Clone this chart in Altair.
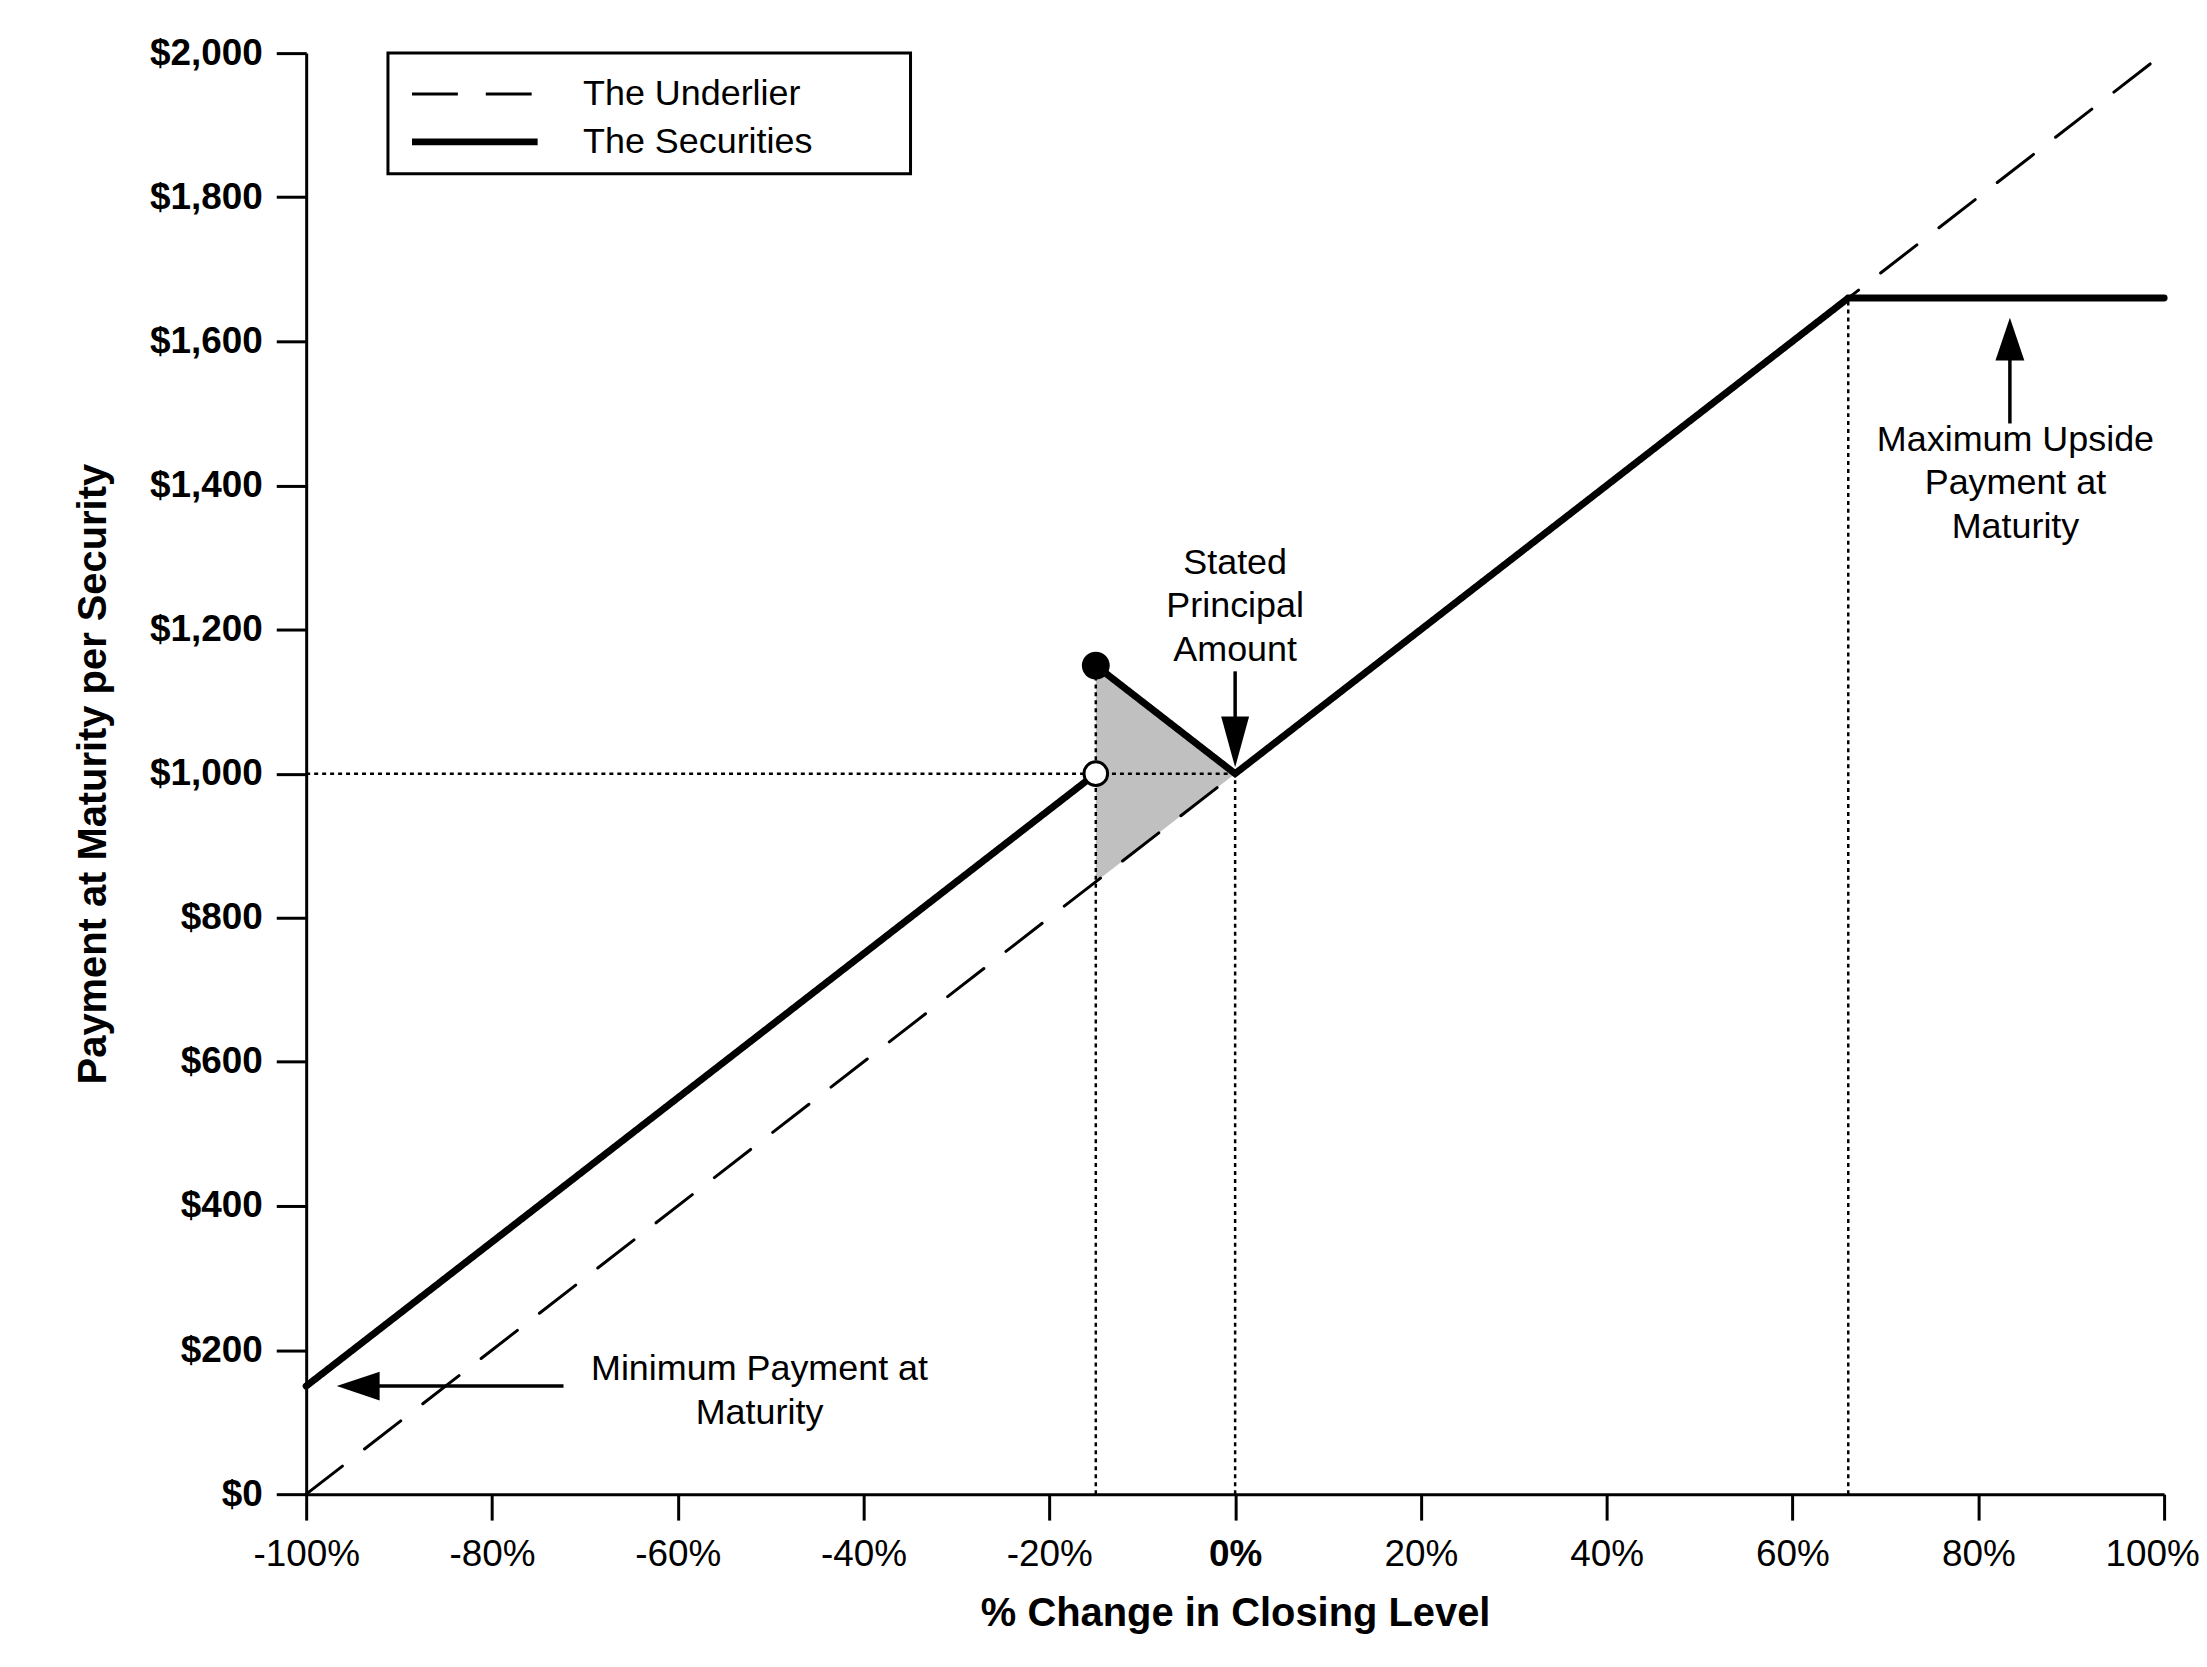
import altair as alt
import pandas as pd

FONT = "Liberation Sans"

# ---------------- data ----------------
x_ticks = [-100, -80, -60, -40, -20, 0, 20, 40, 60, 80, 100]
y_ticks = [0, 200, 400, 600, 800, 1000, 1200, 1400, 1600, 1800, 2000]

series_names = ["The Underlier", "The Securities"]

und_x = [-100, 100]
und_y = [0, 2000]

sec1_x = [-100, -15]
sec1_y = [150, 1000]
sec2_x = [-15, 0, 66, 100]
sec2_y = [1150, 1000, 1660, 1660]

shade_x = [-15, 0]
shade_lo = [850, 1000]
shade_hi = [1150, 1000]

dot_filled_x = [-15]
dot_filled_y = [1150]
dot_open_x = [-15]
dot_open_y = [1000]

guide_x = [-100, -15, 0, 66]
guide_x2 = [0, -15, 0, 66]
guide_y = [1000, 0, 0, 0]
guide_y2 = [1000, 1150, 1000, 1660]

shaft_x = [-92.5, 0, 83.4]
shaft_x2 = [-72.3, 0, 83.4]
shaft_y = [150, 1142, 1580]
shaft_y2 = [150, 1070, 1486]

head_min = ([-94.4], [150])
head_stated = ([0], [1044])
head_max = ([83.4], [1603])

note_text = ["Stated\nPrincipal\nAmount", "Maximum Upside\nPayment at\nMaturity", "Minimum Payment at\nMaturity"]
note_x = [0, 84.0, -51.2]
note_y = [1277, 1448, 158]

# ---------------- tables ----------------
lines_df = pd.DataFrame({
    "x": und_x + sec1_x + sec2_x,
    "y": und_y + sec1_y + sec2_y,
    "series": [series_names[0]] * len(und_x) + [series_names[1]] * (len(sec1_x) + len(sec2_x)),
    "seg": ["u"] * len(und_x) + ["s1"] * len(sec1_x) + ["s2"] * len(sec2_x),
})
shade_df = pd.DataFrame({"x": shade_x, "lo": shade_lo, "hi": shade_hi})
guide_df = pd.DataFrame({"x": guide_x, "x2": guide_x2, "y": guide_y, "y2": guide_y2})
shaft_df = pd.DataFrame({"x": shaft_x, "x2": shaft_x2, "y": shaft_y, "y2": shaft_y2})
notes_df = pd.DataFrame({"t": note_text, "x": note_x, "y": note_y})

# ---------------- axes / scales ----------------
xs = alt.Scale(domain=[-100, 100], nice=False, zero=False)
ys = alt.Scale(domain=[0, 2000], nice=False, zero=False)

x_axis = alt.Axis(
    title="% Change in Closing Level",
    values=x_ticks, labelExpr="datum.value + '%'",
    labelFont=FONT, labelFontSize=37, labelColor="black",
    labelFontWeight={"condition": {"test": "datum.value === 0", "value": "bold"}, "value": "normal"},
    labelOffset={"condition": {"test": "datum.value === 100", "value": -12}, "value": 0},
    labelPadding=17, labelFlush=False, labelOverlap=False,
    tickSize=26, tickWidth=3, tickColor="black",
    domainColor="black", domainWidth=3, grid=False,
    titleFont=FONT, titleFontSize=40, titleFontWeight="bold", titleColor="black",
    titleY=132, titleBaseline="alphabetic",
)
y_axis = alt.Axis(
    title="Payment at Maturity per Security",
    values=y_ticks, format="$,.0f",
    labelFont=FONT, labelFontSize=37, labelFontWeight="bold", labelColor="black",
    labelPadding=14, labelFlush=False, labelOverlap=False,
    tickSize=30, tickWidth=3, tickColor="black",
    domainColor="black", domainWidth=3, grid=False,
    titleFont=FONT, titleFontSize=40, titleFontWeight="bold", titleColor="black",
    titleAngle=270, titleX=-201, titleY=722.5, titleBaseline="alphabetic", titleAlign="center",
)


def X(f="x"):
    return alt.X(f"{f}:Q", scale=xs, axis=x_axis)


def Y(f="y"):
    return alt.Y(f"{f}:Q", scale=ys, axis=y_axis)


legend = alt.Legend(
    title=None, orient="none", legendX=82, legendY=0,
    symbolType="M-0.75,0H4.25M17.95,0Z", symbolSize=2540,
    symbolStrokeColor="black", symbolFillColor="transparent",
    labelOffset=123.6, labelFont=FONT, labelFontSize=36, labelColor="black",
    labelLimit=1000,
    padding=14, rowPadding=1, strokeColor="black", fillColor="white",
)

# ---------------- layers ----------------
shade = alt.Chart(shade_df).mark_area(color="#c0c0c0", opacity=1).encode(
    x=X(), y=Y("lo"), y2="hi:Q"
)

guides = alt.Chart(guide_df).mark_rule(color="black", strokeWidth=2.5, strokeDash=[4, 4]).encode(
    x=X(), x2="x2:Q", y=Y(), y2="y2:Q"
)

lines = alt.Chart(lines_df).mark_line(color="black", strokeCap="round").encode(
    x=X(), y=Y(),
    detail="seg:N",
    strokeDash=alt.StrokeDash("series:N", scale=alt.Scale(domain=series_names, range=[[46, 28], [1, 0]]), legend=legend),
    strokeWidth=alt.StrokeWidth("series:N", scale=alt.Scale(domain=series_names, range=[3, 7]), legend=legend),
)

dot_f = alt.Chart(pd.DataFrame({"x": dot_filled_x, "y": dot_filled_y})).mark_point(
    shape="circle", filled=True, color="black", opacity=1, size=780
).encode(x=X(), y=Y())

dot_o = alt.Chart(pd.DataFrame({"x": dot_open_x, "y": dot_open_y})).mark_point(
    shape="circle", filled=True, fill="white", stroke="black", strokeWidth=3, opacity=1, size=560
).encode(x=X(), y=Y())

shafts = alt.Chart(shaft_df).mark_rule(color="black", strokeWidth=3.5).encode(
    x=X(), x2="x2:Q", y=Y(), y2="y2:Q"
)

h_min = alt.Chart(pd.DataFrame({"x": head_min[0], "y": head_min[1]})).mark_point(
    shape="M-1,0L1,-0.674L1,0.674Z", size=1849, filled=True, color="black", opacity=1
).encode(x=X(), y=Y())
h_stated = alt.Chart(pd.DataFrame({"x": head_stated[0], "y": head_stated[1]})).mark_point(
    shape="M-0.549,-1L0.549,-1L0,1Z", size=2601, filled=True, color="black", opacity=1
).encode(x=X(), y=Y())
h_max = alt.Chart(pd.DataFrame({"x": head_max[0], "y": head_max[1]})).mark_point(
    shape="M0,-1L0.674,1L-0.674,1Z", size=1849, filled=True, color="black", opacity=1
).encode(x=X(), y=Y())

notes = alt.Chart(notes_df).mark_text(
    font=FONT, fontSize=36, lineBreak="\n", align="center", baseline="alphabetic",
    lineHeight=43.5, color="black"
).encode(x=X(), y=Y(), text="t:N")

chart = alt.layer(
    shade, guides, lines, dot_f, dot_o, shafts, h_min, h_stated, h_max, notes
).properties(
    width=1863, height=1445,
    autosize=alt.AutoSizeParams(type="none"),
    padding={"left": 299, "top": 43, "right": 35, "bottom": 150},
    background="white",
).configure_view(stroke=None).configure_legend(strokeWidth=3)

chart.save("out.html", embed_options={"renderer": "svg", "actions": False})
